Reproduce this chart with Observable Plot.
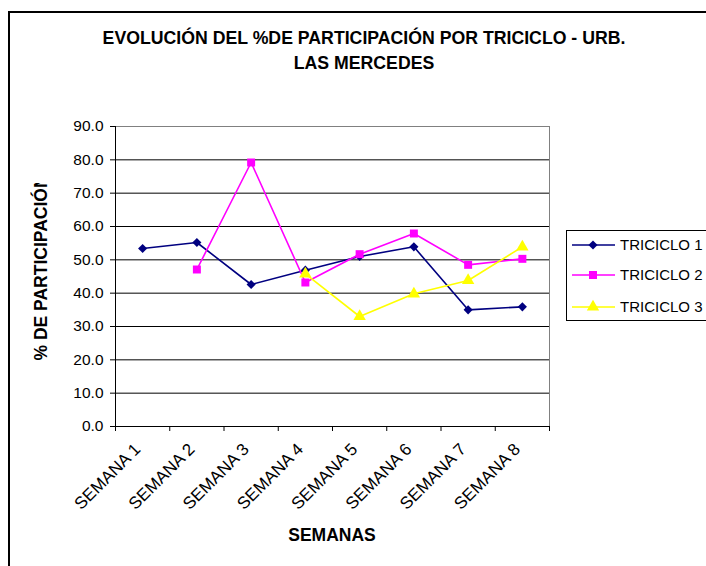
<!DOCTYPE html>
<html>
<head>
<meta charset="utf-8">
<script src="https://cdn.jsdelivr.net/npm/d3@7"></script>
<script src="https://cdn.jsdelivr.net/npm/@observablehq/plot@0.6"></script>
<style>
  body { margin: 0; background: #fff; }
  #wrap { position: relative; width: 706px; height: 566px; overflow: hidden; font-family: "Liberation Sans", Arial, sans-serif; color: #000; }
  #chart { position: absolute; left: 0; top: 0; }
  #frame { position: absolute; left: 8px; top: 11px; width: 760px; height: 620px; border: 2px solid #000; box-sizing: border-box; pointer-events: none; }
  #title { position: absolute; left: 0; top: 26px; width: 728px; text-align: center; font-weight: bold; font-size: 17.7px; line-height: 25px; }
  #xlabel { position: absolute; left: 232px; width: 200px; top: 524px; text-align: center; font-weight: bold; font-size: 17.5px; line-height: 22px; }
  #legend { position: absolute; left: 566px; top: 230px; }
</style>
</head>
<body>
<div id="wrap">
  <div id="chart"></div>
  <div id="frame"></div>
  <div id="title">EVOLUCIÓN DEL %DE PARTICIPACIÓN POR TRICICLO - URB.<br>LAS MERCEDES</div>
  <div id="xlabel">SEMANAS</div>
  <div id="legend"></div>
</div>
<script>
// ---- data ----
const weeks = ["SEMANA 1", "SEMANA 2", "SEMANA 3", "SEMANA 4", "SEMANA 5", "SEMANA 6", "SEMANA 7", "SEMANA 8"];
const seriesNames = ["TRICICLO 1", "TRICICLO 2", "TRICICLO 3"];
const triciclo1 = [53.4, 55.2, 42.6, 46.9, 51.0, 53.9, 35.0, 35.9];
const triciclo2 = [null, 47.1, 79.2, 43.2, 51.7, 57.9, 48.5, 50.3];
const triciclo3 = [null, null, null, 45.8, 33.0, 39.8, 43.8, 53.9];
const yTicks = [0, 10, 20, 30, 40, 50, 60, 70, 80, 90];
const colors = ["#000080", "#FF00FF", "#FFFF00"];

const allSeries = [triciclo1, triciclo2, triciclo3];
const rows = [];
allSeries.forEach((vals, s) => {
  vals.forEach((v, i) => {
    if (v != null) rows.push({ serie: seriesNames[s], week: weeks[i], i: i + 1, v });
  });
});
const idx = weeks.map((w, i) => i + 1);
const bounds = [0.5, ...idx.map(i => i + 0.5)];

const bySerie = name => rows.filter(r => r.serie === name);
const symbols = ["diamond2", "square", "triangle"];
const radii = [4.1, 4.5, 4.6];

const marks = [
  Plot.ruleY(yTicks.slice(1, -1), { y: d => d, stroke: "#000", strokeWidth: 1 }),
  Plot.ruleY([90], { stroke: "#808080", strokeWidth: 1 }),
  Plot.ruleX([bounds[bounds.length - 1]], { stroke: "#808080", strokeWidth: 1 }),
  Plot.ruleX([bounds[0]], { stroke: "#000", strokeWidth: 1 }),
  Plot.ruleY([0], { stroke: "#000", strokeWidth: 1 }),
  Plot.axisY({ ticks: yTicks, tickFormat: d => d.toFixed(1), tickSize: 5, tickPadding: 7, label: null, fontSize: 15.5 }),
  Plot.axisX({ ticks: bounds, tickSize: 5, tickFormat: () => "", label: null }),
  Plot.axisX({ ticks: idx, tickSize: 0, tickFormat: i => weeks[i - 1], tickRotate: -45, tickPadding: 20, dx: -5, label: null, fontSize: 17 })
];
seriesNames.forEach((name, s) => {
  marks.push(Plot.line(bySerie(name), { x: "i", y: "v", stroke: "serie", strokeWidth: 1.6 }));
  marks.push(Plot.dot(bySerie(name), { x: "i", y: "v", fill: "serie", symbol: () => symbols[s], r: radii[s], stroke: "none" }));
});

const chart = Plot.plot({
  width: 706,
  height: 566,
  marginLeft: 115,
  marginRight: 157,
  marginTop: 126,
  marginBottom: 140,
  x: { type: "linear", domain: [bounds[0], bounds[bounds.length - 1]], axis: null },
  y: { domain: [0, 90], axis: null },
  color: { domain: seriesNames, range: colors },
  symbol: { domain: symbols, range: symbols },
  style: { fontFamily: "'Liberation Sans', Arial, sans-serif", fontSize: "15.5px", color: "#000", background: "none" },
  marks
});
document.getElementById("chart").appendChild(chart);

// y-axis title (clipped at top as in the reference)
const svg = d3.select(chart);
svg.append("defs").append("clipPath").attr("id", "ylabelclip")
  .append("rect").attr("x", 0).attr("y", 183).attr("width", 90).attr("height", 300);
svg.append("g")
  .attr("clip-path", "url(#ylabelclip)")
  .append("text")
  .attr("transform", "translate(47,268) rotate(-90)")
  .attr("text-anchor", "middle")
  .attr("font-weight", "bold")
  .attr("font-size", 17.5)
  .attr("fill", "#000")
  .text("% DE PARTICIPACIÓN");

// legend
const lg = d3.select("#legend").append("svg").attr("width", 150).attr("height", 92)
  .style("font-family", "'Liberation Sans', Arial, sans-serif");
lg.append("rect").attr("x", 0.5).attr("y", 0.5).attr("width", 160).attr("height", 90)
  .attr("fill", "#fff").attr("stroke", "#000");
const rowY = [15, 45, 77];
const legendSym = [d3.symbolDiamond2, d3.symbolSquare, d3.symbolTriangle];
seriesNames.forEach((name, s) => {
  const g = lg.append("g").attr("transform", `translate(0,${rowY[s]})`);
  g.append("line").attr("x1", 6).attr("x2", 49).attr("y1", 0).attr("y2", 0)
    .attr("stroke", colors[s]).attr("stroke-width", 1.6);
  g.append("path").attr("transform", "translate(27,0)")
    .attr("d", d3.symbol(legendSym[s], Math.PI * radii[s] * radii[s])())
    .attr("fill", colors[s]);
  g.append("text").attr("x", 54).attr("y", 0).attr("dy", "0.35em")
    .attr("font-size", 15).attr("fill", "#000").text(name);
});
</script>
</body>
</html>
